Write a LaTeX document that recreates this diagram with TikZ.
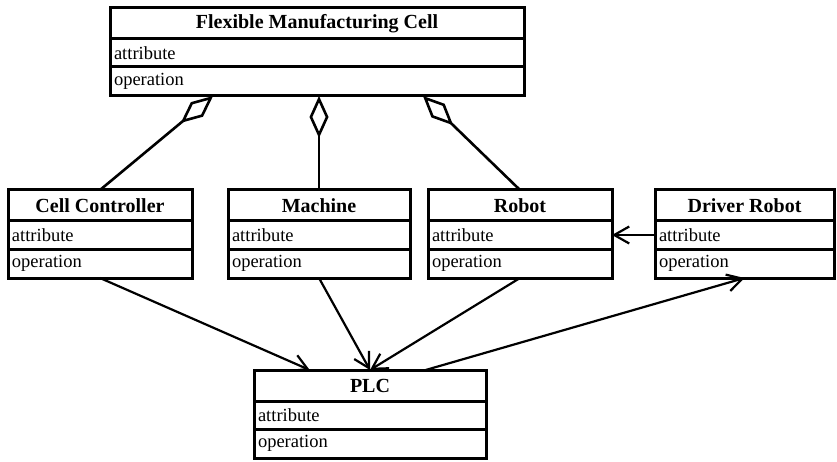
\documentclass[tikz,border=0pt]{standalone}
\usepackage{fontspec}
\setmainfont{Liberation Serif}
\usetikzlibrary{arrows.meta,calc}
\tikzset{
  boxline/.style={draw=black, line width=3pt, outer sep=0pt},
  ttl/.style={boxline, minimum height=31pt, inner sep=0pt, font=\fontsize{20}{23}\selectfont\bfseries, anchor=north west},
  rowa/.style={boxline, minimum height=28pt, inner xsep=4pt, inner ysep=0pt, align=left, font=\fontsize{18.5}{21}\selectfont, anchor=north west},
  rowo/.style={rowa, minimum height=29pt},
  agg/.style={line width=2.6pt, {Diamond[open, length=42pt, width=19pt, line width=2.6pt]}-},
  dep/.style={line width=2.2pt, -{Straight Barb[length=15pt, width=17pt, line width=2.2pt]}},
}
\newcommand{\umlcls}[5]{%
  \node[ttl, minimum width=#5pt] (#1) at (#3,#4) {#2};
  \node[rowa, text width=#5pt-8pt] (#1-a) at (#1.south west) {attribute};
  \node[rowo, text width=#5pt-8pt] (#1-o) at (#1-a.south west) {operation};
}
\begin{document}
\begin{tikzpicture}[x=1pt,y=-1pt]
\useasboundingbox[fill=white] (0,0) rectangle (837,462);
\umlcls{fmc}{Flexible Manufacturing Cell}{110}{8}{414}
\umlcls{cc}{Cell Controller}{8}{190}{184}
\umlcls{mach}{Machine}{228}{190}{182}
\umlcls{rob}{Robot}{428}{190}{184}
\umlcls{drv}{Driver Robot}{655}{190}{179}
\umlcls{plc}{PLC}{254}{370}{232}
% aggregations
\draw[agg] ($(fmc-o.south west)!0.249!(fmc-o.south east)$) -- (cc.north);
\draw[agg] (mach.north |- fmc-o.south) -- (mach.north);
\draw[agg] ($(fmc-o.south west)!0.756!(fmc-o.south east)$) -- (rob.north);
% dependencies
\draw[dep] (cc-o.south) -- ($(plc.north west)!0.24!(plc.north east)$);
\draw[dep] (mach-o.south) -- (plc.north);
\draw[dep] (rob-o.south) -- (plc.north);
\draw[dep] ($(plc.north west)!0.74!(plc.north east)$) -- (drv-o.south);
\draw[dep] (drv-a.west) -- (rob-a.east);
\end{tikzpicture}
\end{document}
